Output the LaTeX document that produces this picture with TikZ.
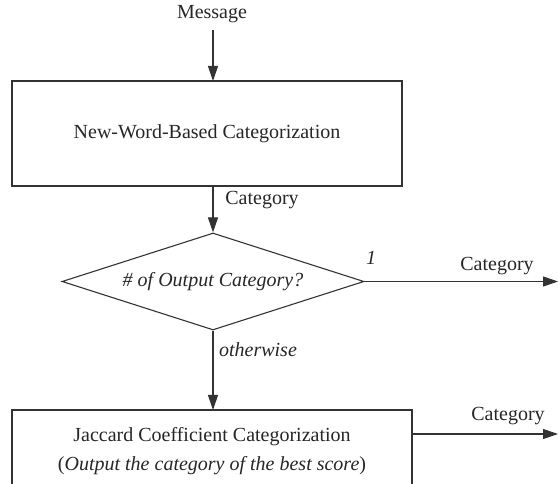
\documentclass[tikz,border=0pt]{standalone}
\usepackage{fontspec}
\setmainfont{Liberation Serif}
\usetikzlibrary{shapes.geometric,arrows.meta}

\begin{document}
\begin{tikzpicture}[x=1pt,y=-1pt,font=\fontsize{20}{24}\selectfont,
  line width=1.1pt,draw=black!80,text=black!85,
  flow/.style={-{Triangle[length=15pt,width=10pt]}},
  procbox/.style={draw,rectangle,inner sep=0pt,align=center},
  decide/.style={draw,diamond,aspect=3.1,inner sep=0pt,minimum width=302pt,minimum height=97pt}]
  \useasboundingbox (0,0) rectangle (558,484);
  \clip (0,0) rectangle (558,484);
  \node (msg) at (212,14) {Message};
  \node[procbox,minimum width=390pt,minimum height=105pt] (newword) at (207,133.5) {New-Word-Based Categorization};
  \node[decide] (count) at (213,281.5) {\itshape \# of Output Category?};
  \node[procbox,minimum width=400pt,minimum height=110pt] (jaccard) at (212,465) {};
  \node (jtitle) at (212,437) {Jaccard Coefficient Categorization};
  \node (jnote) at (212,466) {(\textit{Output the category of the best score})};
  \coordinate (out1) at (558,281.5);
  \coordinate (out2) at (558,434);
  \draw[flow] (213,30) -- (213,81);
  \draw[flow] (213,186) -- (count.north);
  \draw[flow] (count.south) -- (213,410);
  \draw[flow] (count.east) -- (out1);
  \draw[flow] (412,434) -- (out2);
  \node (lblcat) at (262,200) {Category};
  \node (lblone) at (371,258) {\itshape 1};
  \node (lblout1) at (497,266) {Category};
  \node (lblother) at (258,350) {\itshape otherwise};
  \node (lblout2) at (508,416) {Category};
\end{tikzpicture}
\end{document}
